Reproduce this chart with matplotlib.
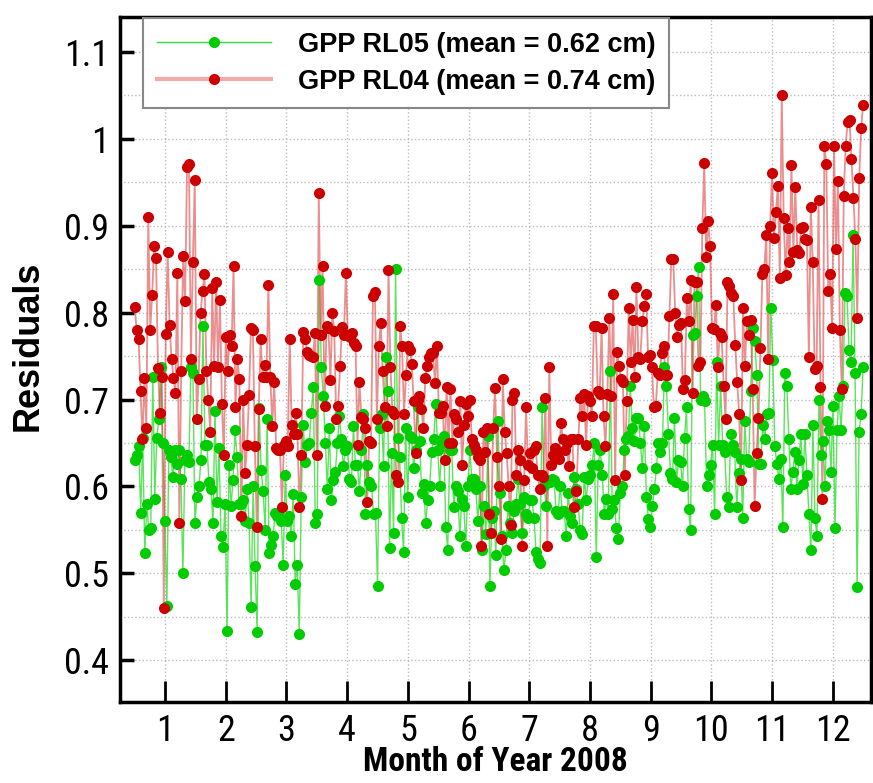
import numpy as np
import matplotlib
matplotlib.use("Agg")
import matplotlib.pyplot as plt
from matplotlib import font_manager
from matplotlib.ticker import FixedLocator, MultipleLocator, FuncFormatter

# daily residuals (cm), Jan..Dec 2008
rl05 = [
    0.630, 0.636, 0.646, 0.570, 0.656, 0.523, 0.580, 0.550, 0.552, 0.726, 0.586, 0.656, 0.677, 0.737, 0.650, 0.560,
    0.462, 0.642, 0.634, 0.611, 0.642, 0.626, 0.642, 0.609, 0.500, 0.630, 0.636, 0.628, 0.737, 0.730, 0.558, 0.588,
    0.600, 0.630, 0.784, 0.648, 0.648, 0.605, 0.597, 0.558, 0.687, 0.582, 0.644, 0.543, 0.530, 0.580,
    0.434, 0.625, 0.578, 0.607, 0.665, 0.634, 0.580, 0.580, 0.584, 0.560, 0.597, 0.558, 0.461, 0.600, 0.508, 0.432,
    0.690, 0.619, 0.595, 0.550, 0.677, 0.523, 0.533, 0.543, 0.570, 0.566, 0.566, 0.560, 0.510, 0.613, 0.560, 0.566,
    0.543, 0.591, 0.488, 0.510, 0.430, 0.588, 0.671, 0.628, 0.648, 0.650, 0.685, 0.714, 0.558, 0.568, 0.837, 0.737,
    0.704, 0.650, 0.597, 0.667,
    0.584, 0.607, 0.617, 0.650, 0.681, 0.654, 0.623, 0.642, 0.646, 0.609, 0.605, 0.669, 0.625, 0.625, 0.595, 0.642,
    0.683, 0.568, 0.625, 0.605, 0.601, 0.568, 0.570, 0.486, 0.667, 0.683, 0.623, 0.749, 0.710, 0.529, 0.638, 0.547,
    0.850, 0.656, 0.634, 0.564, 0.525, 0.667, 0.588, 0.658, 0.656, 0.621, 0.642, 0.691, 0.652, 0.593, 0.603, 0.558,
    0.584, 0.601, 0.640, 0.654, 0.695, 0.642,
    0.601, 0.650, 0.658, 0.553, 0.527, 0.642, 0.642, 0.576, 0.601, 0.595, 0.543, 0.586, 0.578, 0.531, 0.600, 0.642,
    0.609, 0.609, 0.597, 0.560, 0.601, 0.527, 0.578, 0.545, 0.658, 0.486, 0.564, 0.572, 0.521, 0.675, 0.593, 0.543,
    0.504, 0.527, 0.578, 0.558, 0.547, 0.572, 0.580, 0.609, 0.580, 0.547, 0.588, 0.568, 0.564, 0.584,
    0.584, 0.564, 0.525, 0.516, 0.512, 0.691, 0.601, 0.578, 0.605, 0.605, 0.609, 0.607, 0.572, 0.568, 0.601, 0.572,
    0.572, 0.543, 0.593, 0.566, 0.558, 0.611, 0.597, 0.580, 0.550, 0.545, 0.611, 0.584, 0.609, 0.613, 0.625, 0.650,
    0.519, 0.625, 0.642, 0.613, 0.568, 0.586, 0.568, 0.733, 0.574, 0.584, 0.552, 0.539, 0.593, 0.601, 0.642, 0.654,
    0.658, 0.716, 0.667, 0.652, 0.679,
    0.679, 0.650, 0.621, 0.669, 0.588, 0.562, 0.553, 0.578, 0.597, 0.621, 0.650, 0.640, 0.650, 0.737, 0.716, 0.660,
    0.615, 0.609, 0.679, 0.605, 0.630, 0.628, 0.600, 0.656, 0.691, 0.574, 0.550, 0.774, 0.776, 0.819, 0.852, 0.700,
    0.704, 0.698, 0.601, 0.613, 0.625, 0.648, 0.568, 0.743, 0.648, 0.716, 0.648, 0.640, 0.588, 0.576, 0.660, 0.648,
    0.640, 0.576, 0.615, 0.632, 0.564, 0.675, 0.632, 0.628,
    0.710, 0.782, 0.767, 0.728, 0.626, 0.626, 0.671, 0.654, 0.683, 0.685, 0.805, 0.745, 0.646, 0.626, 0.609, 0.632,
    0.553, 0.730, 0.716, 0.654, 0.597, 0.617, 0.640, 0.597, 0.630, 0.660, 0.603, 0.660, 0.613, 0.568, 0.527, 0.671,
    0.564, 0.543, 0.700, 0.636, 0.652, 0.600, 0.675, 0.665, 0.617, 0.693, 0.552, 0.665, 0.704, 0.665, 0.716, 0.823,
    0.819, 0.757, 0.743, 0.889, 0.730, 0.484, 0.663, 0.683, 0.737,
]

rl04 = [
    0.806, 0.780, 0.770, 0.710, 0.655, 0.725, 0.667, 0.910, 0.780, 0.820, 0.876, 0.863, 0.736, 0.685, 0.726, 0.460,
    0.775, 0.870, 0.786, 0.747, 0.725, 0.708, 0.846, 0.558, 0.733, 0.865, 0.813, 0.968, 0.971, 0.747, 0.858, 0.953,
    0.677, 0.724, 0.800, 0.825, 0.844, 0.733, 0.699, 0.663, 0.828, 0.739, 0.835, 0.737, 0.815, 0.695, 0.636,
    0.772, 0.733, 0.774, 0.761, 0.853, 0.691, 0.747, 0.724, 0.566, 0.700, 0.615, 0.648, 0.705, 0.782, 0.780, 0.646,
    0.553, 0.689, 0.770, 0.726, 0.740, 0.726, 0.832, 0.726, 0.670, 0.720, 0.644, 0.642, 0.642, 0.576, 0.648, 0.652,
    0.646, 0.770, 0.671, 0.660, 0.685, 0.660, 0.576, 0.636, 0.778, 0.770, 0.755, 0.751, 0.750, 0.749, 0.776, 0.636,
    0.938, 0.774, 0.853, 0.692,
    0.784, 0.782, 0.722, 0.800, 0.779, 0.678, 0.693, 0.739, 0.783, 0.774, 0.846, 0.774, 0.772, 0.776, 0.765, 0.761,
    0.648, 0.720, 0.680, 0.677, 0.667, 0.582, 0.652, 0.650, 0.819, 0.824, 0.677, 0.761, 0.788, 0.733, 0.691, 0.669,
    0.849, 0.737, 0.687, 0.683, 0.613, 0.605, 0.784, 0.761, 0.683, 0.728, 0.761, 0.757, 0.741, 0.698, 0.638, 0.700,
    0.704, 0.689, 0.667, 0.725, 0.739, 0.749, 0.753,
    0.753, 0.719, 0.762, 0.685, 0.685, 0.693, 0.630, 0.714, 0.650, 0.712, 0.650, 0.683, 0.677, 0.663, 0.698, 0.625,
    0.671, 0.695, 0.681, 0.700, 0.654, 0.648, 0.642, 0.634, 0.630, 0.531, 0.663, 0.640, 0.667, 0.568, 0.547, 0.667,
    0.713, 0.634, 0.601, 0.539, 0.724, 0.663, 0.638, 0.601, 0.556, 0.700, 0.708, 0.613, 0.642, 0.630, 0.531, 0.607,
    0.691, 0.625, 0.638, 0.621, 0.642,
    0.646, 0.613, 0.597, 0.613, 0.611, 0.702, 0.531, 0.737, 0.625, 0.636, 0.644, 0.636, 0.632, 0.673, 0.654, 0.642,
    0.650, 0.623, 0.654, 0.654, 0.576, 0.595, 0.654, 0.702, 0.681, 0.706, 0.648, 0.704, 0.698, 0.681, 0.784, 0.784,
    0.710, 0.706, 0.782, 0.681, 0.646, 0.706, 0.794, 0.704, 0.821, 0.607, 0.755, 0.739, 0.724, 0.720, 0.613, 0.698,
    0.805, 0.743, 0.792, 0.726, 0.829, 0.749, 0.747,
    0.790, 0.807, 0.821, 0.749, 0.751, 0.737, 0.691, 0.693, 0.730, 0.728, 0.753, 0.761, 0.728, 0.728, 0.796, 0.862,
    0.862, 0.800, 0.772, 0.786, 0.788, 0.712, 0.722, 0.817, 0.790, 0.837, 0.708, 0.835, 0.835, 0.739, 0.743, 0.897,
    0.972, 0.864, 0.905, 0.877, 0.782, 0.781, 0.809, 0.737, 0.776, 0.772, 0.716, 0.677, 0.835, 0.831, 0.823, 0.819,
    0.763, 0.720, 0.683, 0.607, 0.805, 0.739, 0.790, 0.774, 0.792, 0.712, 0.578, 0.638, 0.679, 0.759,
    0.844, 0.850, 0.889, 0.747, 0.900, 0.960, 0.886, 0.916, 0.946, 0.840, 1.050, 0.909, 0.843, 0.897, 0.858, 0.970,
    0.870, 0.944, 0.872, 0.868, 0.897, 0.899, 0.885, 0.883, 0.749, 0.921, 0.858, 0.735, 0.739, 0.930, 0.714, 0.586,
    0.992, 0.971, 0.825, 0.844, 0.782, 0.992, 0.873, 0.951, 0.780, 0.712, 0.934, 0.992, 1.019, 1.021, 0.977, 0.932,
    0.885, 0.794, 0.955, 1.012, 1.039,
]

labels = ["GPP RL05 (mean = 0.62 cm)", "GPP RL04 (mean = 0.74 cm)"]
months = list(range(1, 13))
yticks = [0.4, 0.5, 0.6, 0.7, 0.8, 0.9, 1.0, 1.1]

# a condensed face for ticks if one is installed
names = {f.name for f in font_manager.fontManager.ttflist}
cond = {f.name for f in font_manager.fontManager.ttflist if f.stretch in ('condensed', 'semi-condensed', 550, 650)}
narrow_name = None
for cand in ["Liberation Sans Narrow", "DejaVu Sans Condensed", "Roboto Condensed", "Open Sans Condensed"]:
    if cand in names:
        narrow_name = cand
        break
if narrow_name is None and "DejaVu Sans" in cond:
    narrow_name = "DejaVu Sans"
narrow = [narrow_name] if narrow_name else ["Liberation Sans"]
narrow_stretch = 'condensed' if narrow_name == "DejaVu Sans" else 'normal'
wide = ["Liberation Sans", "DejaVu Sans"]

# series span the year, mid-month ticks
x05 = 0.5 + 12 * np.arange(len(rl05)) / (len(rl05) - 1)
x04 = 0.5 + 12 * np.arange(len(rl04)) / (len(rl04) - 1)

fig = plt.figure(figsize=(8.73, 7.83), dpi=100)
ax = fig.add_axes([0.1375, 0.1034, 0.8602, 0.8749])

ax.plot(x05, rl05, '-', color='#33dd33', lw=1.0, alpha=0.8, zorder=2)
ax.plot(x04, rl04, '-', color='#dd4444', lw=1.3, alpha=0.6, zorder=3)
ax.plot(x05, rl05, 'o', color='#00cc00', ms=8, mec='none', zorder=4)
ax.plot(x04, rl04, 'o', color='#cc0000', ms=8, mec='none', zorder=5)

# legend proxies
h1, = ax.plot([], [], '-o', color='#33dd33', lw=1.0, ms=8, mfc='#00cc00', mec='none')
h2, = ax.plot([], [], '-o', color='#f2aaaa', lw=3, ms=8, mfc='#cc0000', mec='none')
leg = ax.legend([h1, h2], labels, loc='upper left', bbox_to_anchor=(0.031, 0.998),
                borderaxespad=0, fancybox=False, framealpha=1, edgecolor='#888888',
                handlelength=4.2, handletextpad=1.0, labelspacing=0.4, borderpad=0.5,
                prop={'family': wide, 'weight': 'bold', 'size': 19.5})
leg.get_frame().set_linewidth(1.5)
leg.set_zorder(10)

ax.set_xlim(0.258, 12.63)
ax.set_ylim(0.352, 1.14)

ax.xaxis.set_major_locator(FixedLocator(months))
ax.yaxis.set_major_locator(FixedLocator(yticks))
ax.yaxis.set_minor_locator(MultipleLocator(0.05))
ax.yaxis.set_major_formatter(FuncFormatter(lambda v, p: '%g' % round(v, 2)))

ax.tick_params(axis='x', which='major', direction='in', length=15, width=2, pad=8,
               top=False, labelsize=26)
ax.tick_params(axis='y', which='major', direction='in', length=10, width=2.5, pad=8,
               right=False, labelsize=26)
ax.tick_params(axis='y', which='minor', length=0)
for lab in ax.get_xticklabels() + ax.get_yticklabels():
    lab.set_family(narrow)
    lab.set_stretch(narrow_stretch)

ax.grid(True, axis='x', which='major', color='#bbbbbb', ls=':', lw=1)
ax.grid(True, axis='y', which='both', color='#bbbbbb', ls=':', lw=1)
ax.set_axisbelow(True)

for s in ax.spines.values():
    s.set_linewidth(2.5)

ax.set_xlabel("Month of Year 2008", family=narrow, stretch=narrow_stretch, weight='bold',
              size=24, labelpad=-2)
ax.set_ylabel("Residuals", family=wide, weight='bold', size=26, labelpad=13)
ax.yaxis.label.set_y(0.52)

fig.savefig("out.png", dpi=100)
